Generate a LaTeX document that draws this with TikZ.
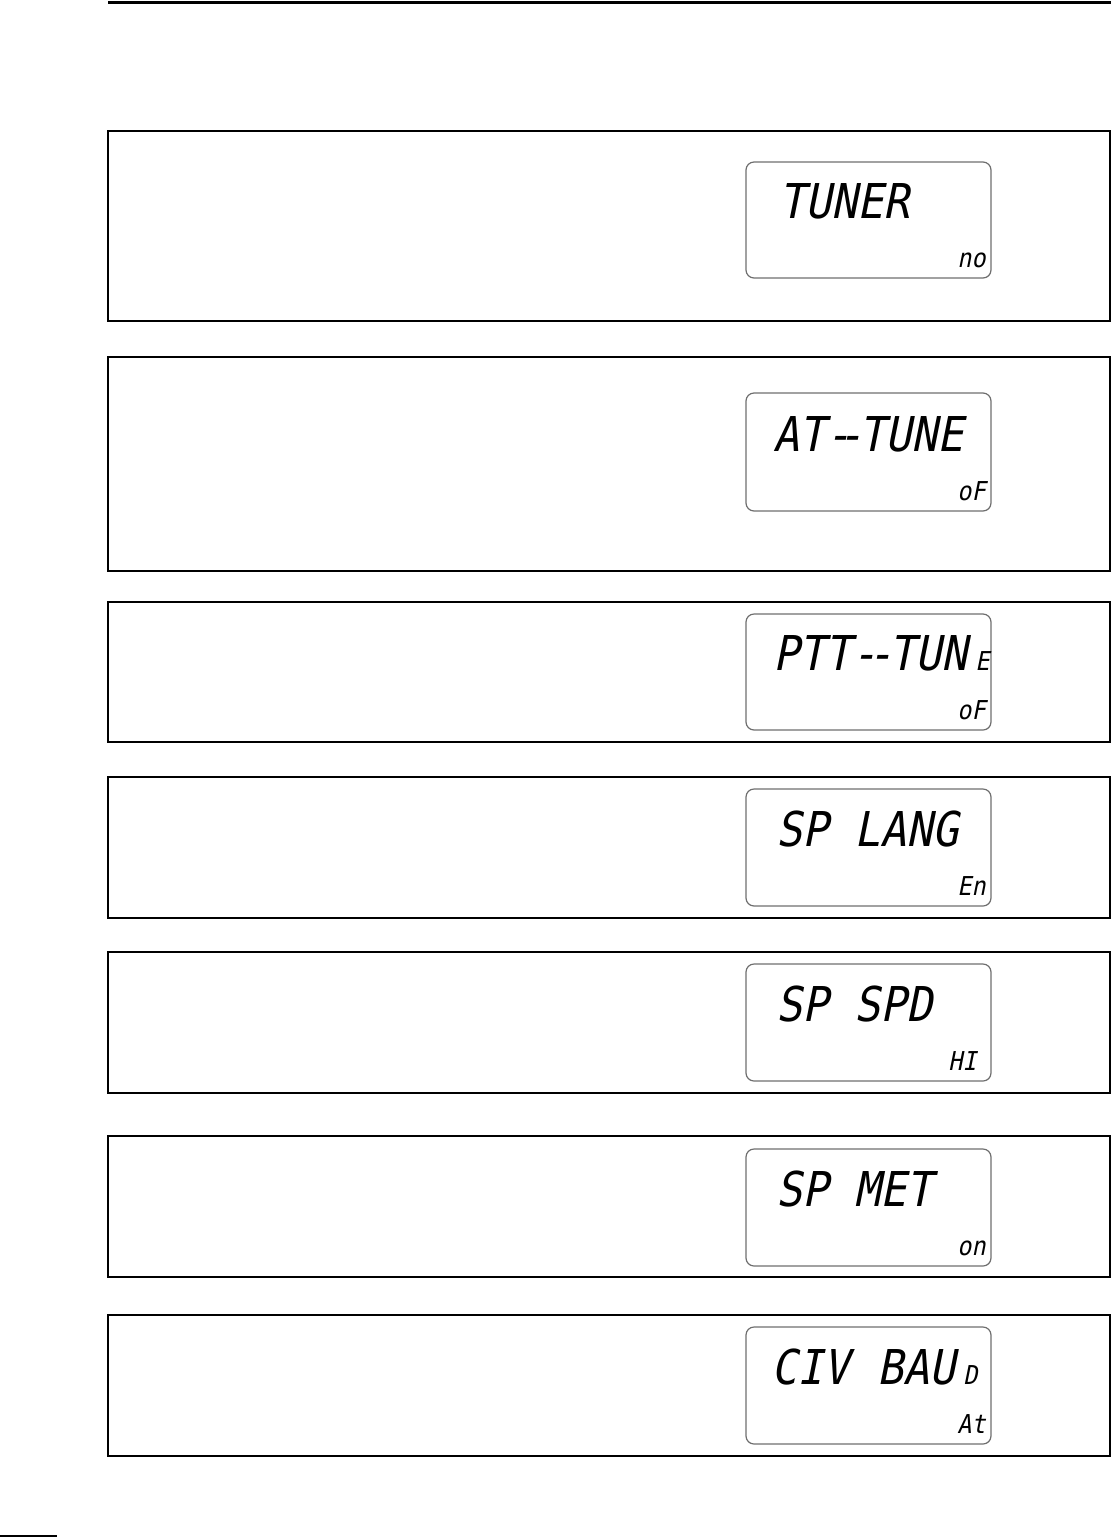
\documentclass[tikz,border=0pt]{standalone}
\usepackage{fontspec}
\newfontfamily\lcdfont[FakeSlant=0.2, FakeStretch=0.9]{DejaVu Sans Mono}
\usetikzlibrary{positioning}
\definecolor{lcdgray}{HTML}{6E6E6E}
\tikzset{
	panel/.style={draw, line width=1pt},
	lcdbox/.style={draw=lcdgray, line width=0.6pt, rounded corners=4pt},
	bigtxt/.style={inner sep=0pt, anchor=base west, font=\lcdfont\fontsize{24}{24}\selectfont},
	subtxt/.style={inner sep=0pt, anchor=base east, font=\lcdfont\fontsize{13}{13}\selectfont},
}
\newcommand{\tinyseg}[1]{\kern4pt{\fontsize{13}{13}\selectfont #1}}

\begin{document}
\begin{tikzpicture}[x=0.5pt, y=-0.5pt]
		\useasboundingbox (0,0) rectangle (1111,1538);

		% page rules
		\draw[line width=1.5pt] (108,2) -- (1111,2);
		\draw[line width=0.75pt] (0,1536) -- (57,1536);

		% one panel per menu item, with its display
		\foreach \n/\ya/\yb/\la/\lb/\xm/\xs/\main/\sub in {
				1/131/321/162/278/779/986/TUNER/no,
				2/357/571/393/511/773/986/{AT-\kern-7pt-\kern-2pt TUNE}/oF,
				3/602/742/614/730/773/986/{PTT-\kern-5pt-\kern-2pt TUN\tinyseg{E}}/oF,
				4/777/918/789/906/776/986/{SP LANG}/En,
				5/952/1093/964/1081/776/977/{SP SPD}/HI,
				6/1136/1277/1149/1266/776/986/{SP MET}/on,
				7/1315/1456/1327/1444/771/986/{CIV \kern1pt BAU\tinyseg{D}}/At}
		{
			\draw[panel] (108,\ya) rectangle (1110,\yb);
			\draw[lcdbox] (746,\la) rectangle (991,\lb);
			\node[bigtxt] (main\n) at (\xm,\lb-60) {\main};
			\node[subtxt] (sub\n) at (\xs,\lb-11) {\sub};
		}
	\end{tikzpicture}
\end{document}
